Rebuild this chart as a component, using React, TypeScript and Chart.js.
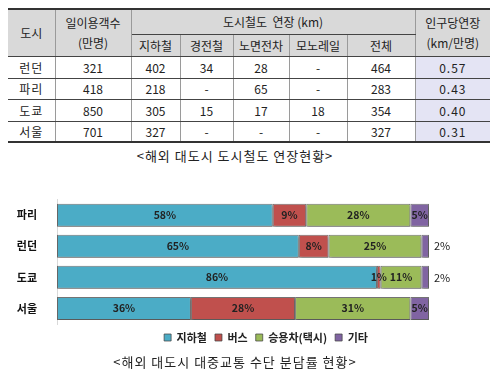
import React, { useEffect, useRef } from "react";
import { Chart, registerables } from "chart.js";

Chart.register(...registerables);

// ---------- Table data ----------
const tableCities = ["런던", "파리", "도쿄", "서울"];
const dailyRiders = ["321", "418", "850", "701"];
const subwayKm = ["402", "218", "305", "327"];
const lightRailKm = ["34", "-", "15", "-"];
const tramKm = ["28", "65", "17", "-"];
const monorailKm = ["-", "-", "18", "-"];
const totalKm = ["464", "283", "354", "327"];
const kmPerPop = ["0.57", "0.43", "0.40", "0.31"];
const tableCaption = "<해외 대도시 도시철도 연장현황>";

// ---------- Chart data ----------
const chartCities = ["파리", "런던", "도쿄", "서울"];
const seriesNames = ["지하철", "버스", "승용차(택시)", "기타"];
const subwayShare = [58, 65, 86, 36];
const busShare = [9, 8, 1, 28];
const carShare = [28, 25, 11, 31];
const otherShare = [5, 2, 2, 5];
const chartCaption = "<해외 대도시 대중교통 수단 분담률 현황>";

const seriesColors = ["#4bacc6", "#c0504d", "#9bbb59", "#8064a2"];

const FONT = "'Noto Sans CJK KR', 'Noto Sans', sans-serif";

const labelPlugin = {
  id: "segLabels",
  beforeDatasetsDraw(chart: any) {
    const ctx = chart.ctx;
    ctx.save();
    ctx.shadowColor = "rgba(0,0,0,0.25)";
    ctx.shadowOffsetY = 2;
    ctx.shadowOffsetX = 1;
    ctx.shadowBlur = 2;
  },
  afterDatasetsDraw(chart: any) {
    const ctx = chart.ctx;
    ctx.restore();
    ctx.save();
    ctx.textBaseline = "middle";
    chart.data.datasets.forEach((ds: any, di: number) => {
      const meta = chart.getDatasetMeta(di);
      meta.data.forEach((el: any, i: number) => {
        const v = ds.data[i];
        const txt = v + "%";
        const cy = el.y;
        if (di === 3 && v <= 2) {
          ctx.font = "400 11px " + FONT;
          ctx.fillStyle = "#222";
          ctx.textAlign = "left";
          ctx.fillText(txt, Math.max(el.x, el.base) + 5, cy);
        } else {
          ctx.font = "700 10.5px " + FONT;
          ctx.fillStyle = "#222";
          ctx.textAlign = "center";
          ctx.fillText(txt, (el.x + el.base) / 2, cy);
        }
      });
    });
    ctx.restore();
  },
};

const CW = 532;
const CH = 172;

function ShareChart() {
  const ref = useRef<HTMLCanvasElement | null>(null);
  useEffect(() => {
    if (!ref.current) return;
    const values = [subwayShare, busShare, carShare, otherShare];
    const chart = new Chart(ref.current, {
      type: "bar",
      data: {
        labels: chartCities,
        datasets: seriesNames.map((n, i) => ({
          label: n,
          data: values[i],
          backgroundColor: seriesColors[i],
          borderColor: "rgba(70,70,70,0.75)",
          borderWidth: 1,
          borderSkipped: false,
          barPercentage: 1,
          categoryPercentage: 0.74,
          yAxisID: "y",
        })),
      },
      options: {
        indexAxis: "y",
        animation: false,
        responsive: false,
        maintainAspectRatio: false,
        layout: { padding: { left: 0, right: 0, top: 2.5, bottom: 0 } },
        plugins: {
          legend: {
            position: "bottom",
            labels: {
              boxWidth: 7,
              boxHeight: 7,
              padding: 8,
              color: "#222",
              font: { family: FONT, size: 11, weight: "bold" },
            },
          },
          tooltip: { enabled: false },
        },
        scales: {
          x: { type: "linear", stacked: true, min: 0, max: 100, display: false },
          y: {
            type: "category",
            stacked: true,
            position: "left",
            grid: { display: false },
            border: { display: true, color: "#d9d9d9" },
            ticks: {
              color: "#111",
              padding: 12,
              font: { family: FONT, size: 11, weight: "bold" },
            },
            afterFit: (s: any) => {
              s.width = 57;
            },
          },
          yR: {
            type: "category",
            labels: chartCities,
            position: "right",
            display: true,
            grid: { display: false },
            border: { display: false },
            ticks: { display: false },
            afterFit: (s: any) => {
              s.width = CW - 429;
            },
          },
        },
      } as any,
      plugins: [labelPlugin],
    });
    return () => chart.destroy();
  }, []);
  return (
    <canvas
      ref={ref}
      width={CW}
      height={CH}
      style={{ position: "absolute", left: 0, top: 181, width: CW, height: CH }}
    />
  );
}

const thin = "1px solid #9a9a9a";
const dark = "1px solid #444";

function cell(extra: React.CSSProperties = {}): React.CSSProperties {
  return {
    borderLeft: thin,
    borderRight: thin,
    borderTop: dark,
    borderBottom: dark,
    padding: 0,
    textAlign: "center",
    verticalAlign: "middle",
    ...extra,
  };
}

function DataTable() {
  const head: React.CSSProperties = { background: "#d9d9d9" };
  const colW = [47, 76, 49, 53, 56, 58, 68, 75];
  const rowH = [22, 21, 22, 21];
  return (
    <table
      style={{
        position: "absolute",
        left: 8,
        top: 8,
        width: 482,
        borderCollapse: "collapse",
        tableLayout: "fixed",
        fontFamily: FONT,
        fontSize: 12,
        color: "#222",
        borderTop: "2px solid #333",
        borderBottom: "2px solid #333",
      }}
    >
      <colgroup>
        {colW.map((w, i) => (
          <col key={i} style={{ width: w }} />
        ))}
      </colgroup>
      <tbody>
        <tr style={{ height: 25 }}>
          <td rowSpan={2} style={cell({ ...head, borderLeft: "none", borderTop: "2px solid #333" })}>도시</td>
          <td rowSpan={2} style={cell({ ...head, borderTop: "2px solid #333", lineHeight: "20px" })}>
            일이용객수
            <br />
            (만명)
          </td>
          <td colSpan={5} style={cell({ ...head, borderTop: "2px solid #333", whiteSpace: "pre" })}>
            {"도시철도  연장 (km)"}
          </td>
          <td rowSpan={2} style={cell({ ...head, borderRight: "none", borderTop: "2px solid #333", lineHeight: "20px" })}>
            인구당연장
            <br />
            (km/만명)
          </td>
        </tr>
        <tr style={{ height: 22 }}>
          <td style={cell(head)}>지하철</td>
          <td style={cell(head)}>경전철</td>
          <td style={cell(head)}>노면전차</td>
          <td style={cell(head)}>모노레일</td>
          <td style={cell(head)}>전체</td>
        </tr>
        {tableCities.map((c, i) => (
          <tr key={c} style={{ height: rowH[i] }}>
            <td style={cell({ borderLeft: "none", letterSpacing: 1 })}>{c}</td>
            <td style={cell()}>{dailyRiders[i]}</td>
            <td style={cell()}>{subwayKm[i]}</td>
            <td style={cell()}>{lightRailKm[i]}</td>
            <td style={cell()}>{tramKm[i]}</td>
            <td style={cell()}>{monorailKm[i]}</td>
            <td style={cell()}>{totalKm[i]}</td>
            <td style={cell({ borderRight: "none", background: "#e4e4f4", letterSpacing: 1 })}>{kmPerPop[i]}</td>
          </tr>
        ))}
      </tbody>
    </table>
  );
}

export default function App() {
  return (
    <div
      style={{
        position: "fixed",
        left: 0,
        top: 0,
        width: 500,
        height: 374,
        background: "#fff",
        overflow: "hidden",
      }}
    >
      <DataTable />
      <div
        style={{
          position: "absolute",
          left: 0,
          top: 146,
          width: 470,
          textAlign: "center",
          fontFamily: FONT,
          fontSize: 13,
          letterSpacing: 1,
          color: "#222",
          whiteSpace: "pre",
        }}
      >
        {tableCaption}
      </div>
      <ShareChart />
      <div
        style={{
          position: "absolute",
          left: 0,
          top: 352,
          width: 470,
          textAlign: "center",
          fontFamily: FONT,
          fontSize: 13,
          letterSpacing: 1,
          color: "#222",
          whiteSpace: "pre",
        }}
      >
        {chartCaption}
      </div>
    </div>
  );
}
